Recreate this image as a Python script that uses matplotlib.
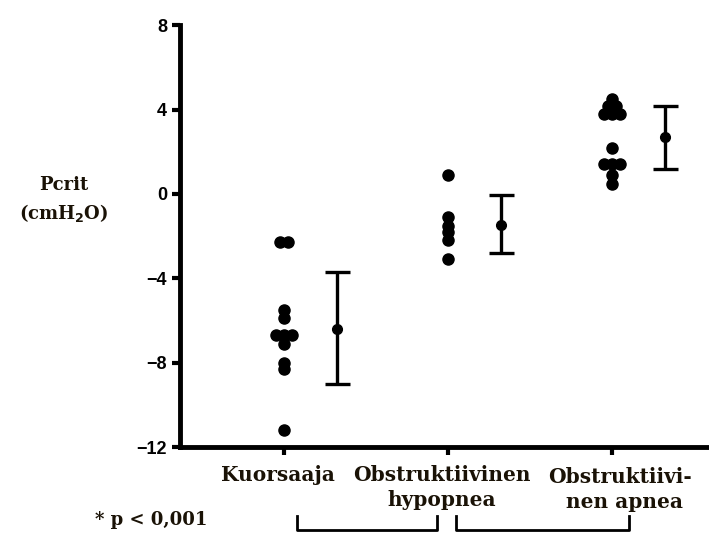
import matplotlib.pyplot as plt
from matplotlib.lines import Line2D
import numpy as np

groups = ["Kuorsaaja", "Obstruktiivinen\nhypopnea", "Obstruktiivi-\nnen apnea"]

# individual Pcrit values (cmH2O)
kuorsaaja = [-2.3, -2.3, -5.5, -5.9, -6.7, -6.7, -6.7, -7.1, -8.0, -8.3, -11.2]
hypopnea = [0.9, -1.1, -1.5, -1.8, -2.2, -3.1]
apnea = [4.5, 4.15, 4.15, 3.8, 3.8, 3.8, 2.2, 1.4, 1.4, 1.4, 0.9, 0.45]

# mean and range shown next to each group
means = [-6.4, -1.45, 2.7]
upper = [-3.7, -0.05, 4.15]
lower = [-9.0, -2.8, 1.2]

yticks = [-12, -8, -4, 0, 4, 8]

fig = plt.figure(figsize=(7.09, 5.36), dpi=100)
ax = fig.add_axes([0.254, 0.166, 0.746, 0.787])

for i, vals in enumerate([kuorsaaja, hypopnea, apnea]):
    xc = i + 1
    # spread identical values side by side
    xs = []
    for j, v in enumerate(vals):
        n = vals.count(v)
        k = vals[:j].count(v)
        xs.append(xc + (k - (n - 1) / 2) * 0.048)
    ax.plot(xs, vals, "o", color="black", ms=8, mec="black")
    ax.errorbar(xc + 0.32, means[i],
                yerr=[[means[i] - lower[i]], [upper[i] - means[i]]],
                fmt="o", color="black", ms=7, elinewidth=2.4,
                capsize=9, capthick=2.4)

ax.set_ylim(-12, 8)
ax.set_xlim(0.366, 3.59)
ax.set_yticks(yticks)
ax.set_yticklabels(["\u221212", "\u22128", "\u22124", "0", "4", "8"],
                   fontsize=13, fontweight="bold", family="Liberation Sans")
ax.set_xticks([1, 2, 3])
ax.set_xticklabels([])
ax.tick_params(direction="out", length=6, width=3)
ax.spines["top"].set_visible(False)
ax.spines["right"].set_visible(False)
ax.spines["left"].set_linewidth(3.5)
ax.spines["bottom"].set_linewidth(3.5)

serif = dict(family="DejaVu Serif", fontweight="bold", fontsize=13,
             color="#1a1206", ha="center", va="center")
fig.text(64 / 709, 1 - 185 / 536, "Pcrit", **serif)
fig.text(64 / 709, 1 - 213 / 536, "(cmH$_\\mathbf{2}$O)", **serif)
fig.text(151 / 709, 1 - 520 / 536, "* p < 0,001", **serif)

serif["fontsize"] = 14.5
fig.text(278 / 709, 1 - 475 / 536, "Kuorsaaja", **serif)
fig.text(442 / 709, 1 - 475 / 536, "Obstruktiivinen", **serif)
fig.text(442 / 709, 1 - 500 / 536, "hypopnea", **serif)
fig.text(620 / 709, 1 - 477 / 536, "Obstruktiivi-", **serif)
fig.text(624 / 709, 1 - 502 / 536, "nen apnea", **serif)

# significance brackets under the group labels
for x0, x1 in [(297, 437), (456, 629)]:
    xb = np.array([x0, x0, x1, x1]) / 709
    yb = 1 - np.array([516, 530, 530, 516]) / 536
    fig.add_artist(Line2D(xb, yb, color="black", lw=2))

fig.savefig("out.png", dpi=100)
